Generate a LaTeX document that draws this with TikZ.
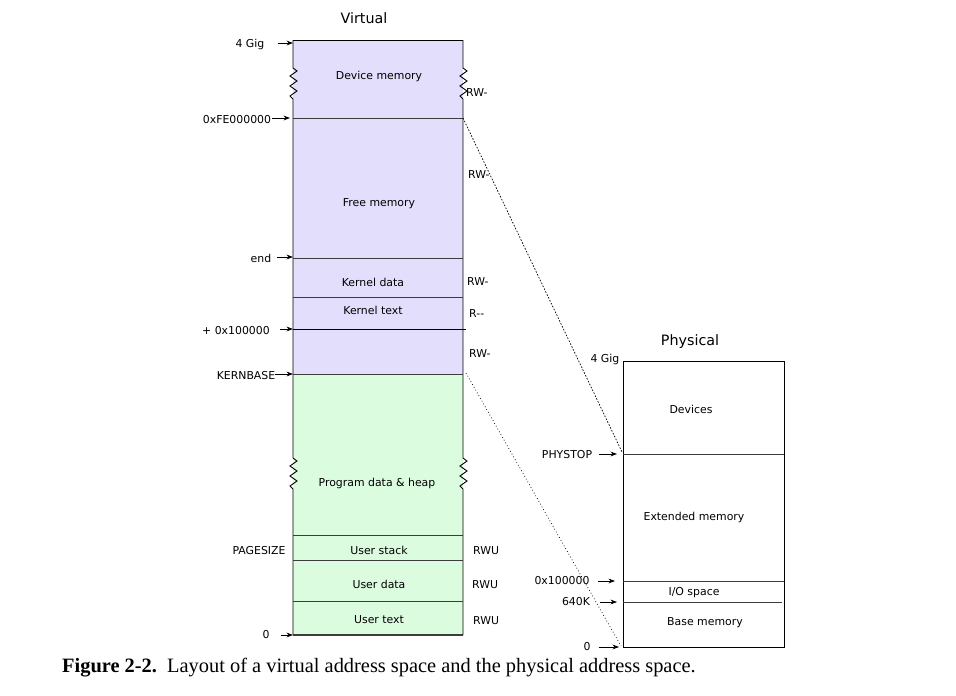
\documentclass[tikz,border=0pt]{standalone}
\usepackage{fontspec}
\setmainfont{DejaVu Sans}
\newfontfamily\capfont{Liberation Serif}
\usetikzlibrary{arrows.meta}
\definecolor{lav}{RGB}{226,222,252}
\definecolor{mint}{RGB}{220,252,224}
\definecolor{edgegray}{RGB}{60,60,60}
\begin{document}
\begin{tikzpicture}[x=1pt,y=-1pt,
  lbl/.style={font=\fontsize{10.9}{12}\selectfont, inner sep=0pt, yshift=-1.5pt},
  ttl/.style={font=\fontsize{14.3}{16}\selectfont, inner sep=0pt, yshift=-1pt},
  arr/.style={-{Stealth[length=6.5pt,width=4.8pt]}, line width=0.75pt},
  edgeline/.style={line width=0.8pt, draw=edgegray},
  outline/.style={line width=0.9pt, draw=black},
  map/.style={line width=0.7pt, dash pattern=on 1.6pt off 1.6pt}]
\useasboundingbox (0,0) rectangle (956,696);
% fills
\fill[lav] (293,40) rectangle (463,374);
\fill[mint] (293,374) rectangle (463,635);
% virtual box outline
\draw[outline] (293,40) -- (463,40);
\draw[outline] (293,40) -- (293,68) -- ++(4,3) -- ++(-7,5) -- ++(7,5) -- ++(-7,5) -- ++(7,5) -- ++(-7,5) -- ++(3,3)
  -- (293,458) -- ++(4,3) -- ++(-7,5) -- ++(7,5) -- ++(-7,5) -- ++(7,5) -- ++(-7,5) -- ++(3,3) -- (293,635);
\draw[outline] (463,40) -- (463,68) -- ++(4,3) -- ++(-7,5) -- ++(7,5) -- ++(-7,5) -- ++(7,5) -- ++(-7,5) -- ++(3,3)
  -- (463,458) -- ++(4,3) -- ++(-7,5) -- ++(7,5) -- ++(-7,5) -- ++(7,5) -- ++(-7,5) -- ++(3,3) -- (463,635);
\draw[line width=1.4pt, draw=edgegray] (293,635) -- (463,635);
% dividers
\draw[edgeline] (293,118) -- (463,118);
\draw[edgeline] (293,258) -- (463,258);
\draw[edgeline] (293,297) -- (463,297);
\draw[line width=0.8pt] (293,329) -- (466,329);
\draw[edgeline] (293,374) -- (463,374);
\draw[edgeline] (293,535) -- (463,535);
\draw[edgeline] (293,560) -- (463,560);
\draw[edgeline] (293,601) -- (463,601);

% titles
\node[ttl] (tv) at (364,17) {Virtual};
\node[ttl] (tp) at (690,341) {Physical};

% virtual region labels
\node[lbl] (dm) at (379,75) {Device memory};
\node[lbl] (fm) at (379,202) {Free memory};
\node[lbl] (kd) at (373,281) {Kernel data};
\node[lbl] (kt) at (373,309) {Kernel text};
\node[lbl] (pd) at (377,482) {Program data \& heap};
\node[lbl] (us) at (379,549) {User stack};
\node[lbl] (ud) at (379,583) {User data};
\node[lbl] (ut) at (379,618) {User text};

% virtual address labels
\coordinate (a4g) at (293,43);
\coordinate (afe) at (290,118);
\coordinate (aend) at (293,257);
\coordinate (a1m) at (293,329);
\coordinate (akb) at (293,374);
\coordinate (a0) at (293,635);
\node[lbl] (v4g) at (250,43) {4 Gig};
\node[lbl] (vfe) at (237,118) {0xFE000000};
\node[lbl] (vend) at (261,257) {end};
\node[lbl] (v1m) at (236,329) {+ 0x100000};
\node[lbl] (vkb) at (246,374) {KERNBASE};
\node[lbl] (vps) at (259,549) {PAGESIZE};
\node[lbl] (v0) at (266,633) {0};
\draw[arr] ([xshift=13pt]v4g.east |- a4g) -- (a4g);
\draw[arr] ([xshift=1pt]vfe.east |- afe) -- (afe);
\draw[arr] ([xshift=6pt]vend.east |- aend) -- (aend);
\draw[arr] ([xshift=10pt]v1m.east |- a1m) -- (a1m);
\draw[arr] (vkb.east |- akb) -- (akb);
\draw[arr] ([xshift=11pt]v0.east |- a0) -- (a0);

% permissions
\node[lbl, anchor=west] (p1) at (466,91) {RW-};
\node[lbl, anchor=west] (p2) at (468,173) {RW-};
\node[lbl, anchor=west] (p3) at (467,280) {RW-};
\node[lbl, anchor=west] (p4) at (469,312) {R-{}-};
\node[lbl, anchor=west] (p5) at (469,352) {RW-};
\node[lbl, anchor=west] (p6) at (473,549) {RWU};
\node[lbl, anchor=west] (p7) at (472,583) {RWU};
\node[lbl, anchor=west] (p8) at (473,619) {RWU};

% physical box
\draw[outline] (623,361) rectangle (784,647);
\draw[edgeline] (623,454) -- (784,454);
\draw[edgeline] (623,581) -- (784,581);
\draw[edgeline] (623,602) -- (782,602);
\node[lbl] (dev) at (691,408) {Devices};
\node[lbl] (ext) at (694,516) {Extended memory};
\node[lbl] (io) at (694,591) {I/O space};
\node[lbl] (bm) at (705,621) {Base memory};

\coordinate (bps) at (617,454);
\coordinate (b1m) at (615,581);
\coordinate (b640) at (617,602);
\coordinate (b0) at (619,647);
\node[lbl] (q4g) at (605,358) {4 Gig};
\node[lbl] (qps) at (567,453) {PHYSTOP};
\node[lbl] (q1m) at (562,579) {0x100000};
\node[lbl] (q640) at (576,600) {640K};
\node[lbl] (q0) at (587,645) {0};
\draw[arr] ([xshift=7pt]qps.east |- bps) -- (bps);
\draw[arr] ([xshift=8pt]q1m.east |- b1m) -- (b1m);
\draw[arr] ([xshift=10pt]q640.east |- b640) -- (b640);
\draw[arr] ([xshift=8pt]q0.east |- b0) -- (b0);

% mapping lines
\coordinate (mfe) at (463,118);
\coordinate (mps) at (622,452);
\coordinate (mkb) at (466,373);
\coordinate (m0) at (621,646);
\draw[map] (mfe) -- (mps);
\draw[line width=0.7pt, dash pattern=on 0.8pt off 2.4pt] (mkb) -- (m0);

% caption
\node[inner sep=0pt, anchor=west, font=\capfont\fontsize{20.4}{22}\selectfont] (cap) at (62,668)
  {\textbf{Figure 2-2.}\hspace{0.5em}Layout of a virtual address space and the physical address space.};
\end{tikzpicture}
\end{document}
